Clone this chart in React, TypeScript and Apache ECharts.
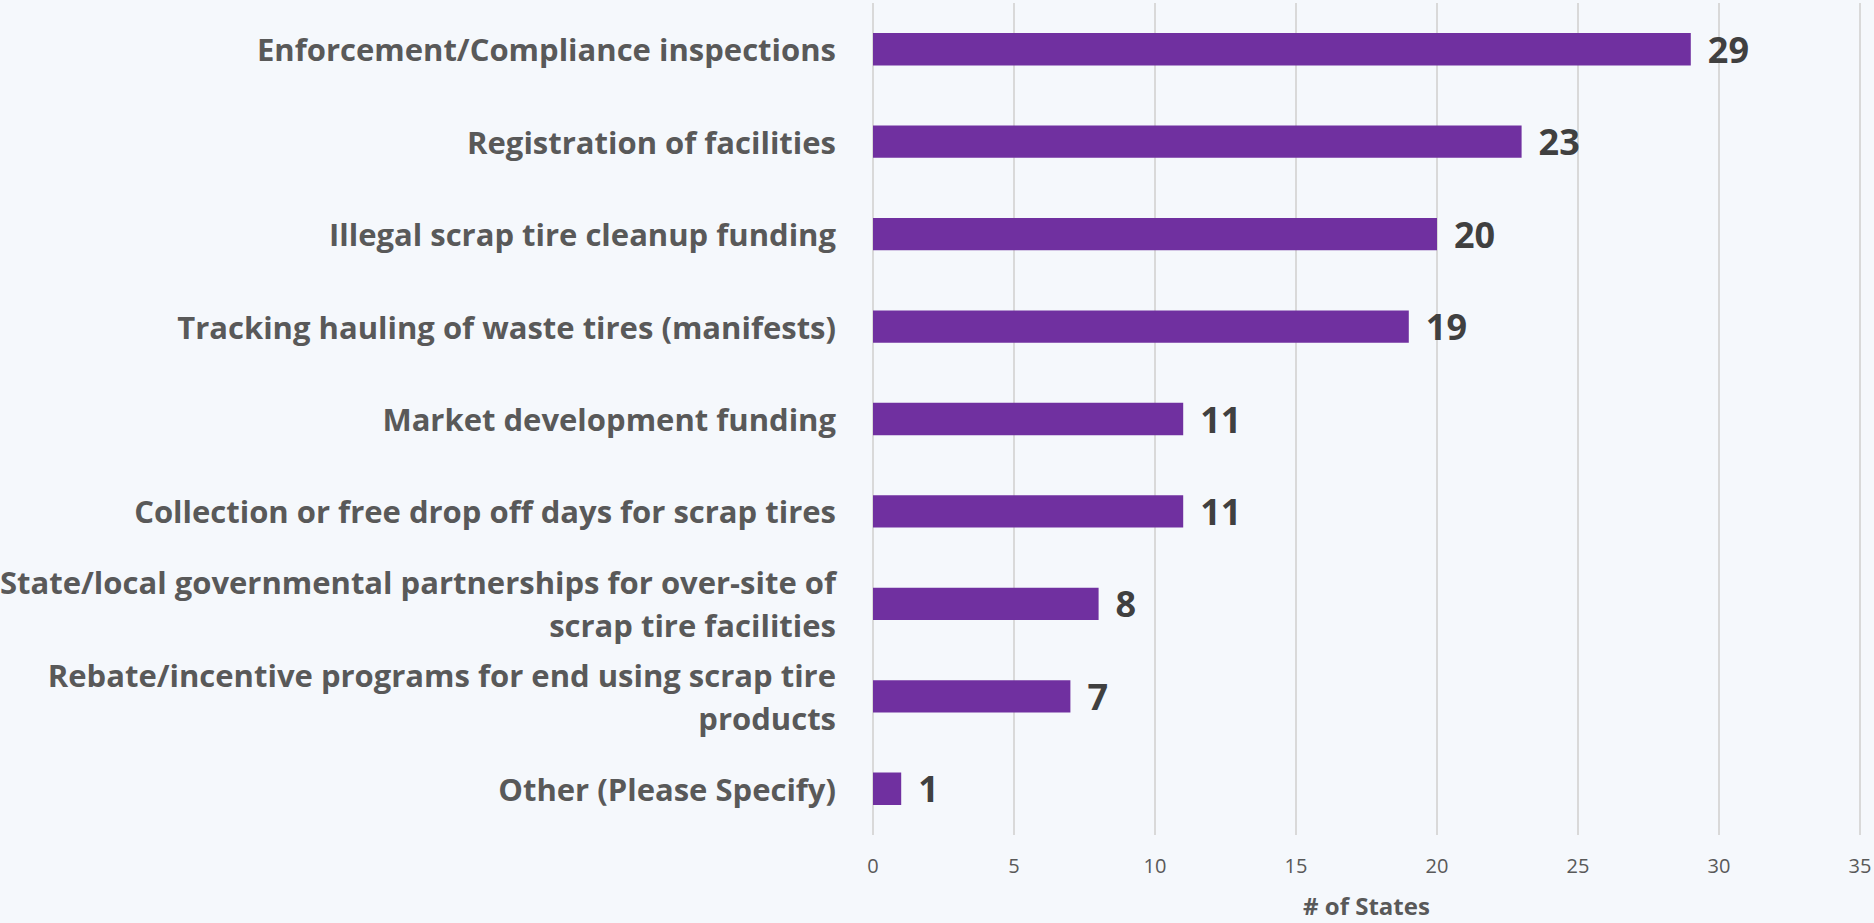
import React, { useEffect, useRef } from "react";
import * as echarts from "echarts";

const categories: string[] = [
  "Enforcement/Compliance inspections",
  "Registration of facilities",
  "Illegal scrap tire cleanup funding",
  "Tracking hauling of waste tires (manifests)",
  "Market development funding",
  "Collection or free drop off days for scrap tires",
  "State/local governmental partnerships for over-site of\nscrap tire facilities",
  "Rebate/incentive programs for end using scrap tire\nproducts",
  "Other (Please Specify)",
];

const values: number[] = [29, 23, 20, 19, 11, 11, 8, 7, 1];

const axisMin = 0;
const axisMax = 35;
const axisInterval = 5;
const axisTitle = "# of States";

export default function App() {
  const ref = useRef<HTMLDivElement>(null);

  useEffect(() => {
    if (!ref.current) return;
    const chart = echarts.init(ref.current, null, { renderer: "svg" });
    chart.setOption({
      animation: false,
      backgroundColor: "#F5F8FC",
      grid: {
        left: 873,
        right: 14,
        top: 3,
        bottom: 88,
        containLabel: false,
        outerBoundsMode: "none",
      },
      xAxis: {
        type: "value",
        min: axisMin,
        max: axisMax,
        interval: axisInterval,
        axisLine: { show: false },
        axisTick: { show: false },
        splitLine: { show: true, lineStyle: { color: "#D9D9D9", width: 2 } },
        axisLabel: {
          color: "#595959",
          fontFamily: "Open Sans",
          fontSize: 20,
          margin: 20,
        },
        name: axisTitle,
        nameLocation: "middle",
        nameGap: 58,
        nameTextStyle: {
          color: "#595959",
          fontFamily: "Open Sans",
          fontWeight: "bold",
          fontSize: 24,
        },
      },
      yAxis: {
        type: "category",
        data: categories,
        inverse: true,
        axisLine: { show: false },
        axisTick: { show: false },
        splitLine: { show: false },
        axisLabel: {
          color: "#595959",
          fontFamily: "Open Sans",
          fontWeight: "bold",
          fontSize: 31,
          lineHeight: 43,
          margin: 37,
          align: "right",
        },
      },
      series: [
        {
          type: "bar",
          data: values,
          barWidth: "35%",
          itemStyle: { color: "#7030A0" },
          label: {
            show: true,
            position: "right",
            distance: 17,
            color: "#404040",
            fontFamily: "Open Sans",
            fontWeight: "bold",
            fontSize: 36,
          },
        },
      ],
    });
    return () => chart.dispose();
  }, []);

  return (
    <div
      ref={ref}
      style={{ position: "fixed", left: 0, top: 0, width: 1874, height: 923 }}
    />
  );
}
